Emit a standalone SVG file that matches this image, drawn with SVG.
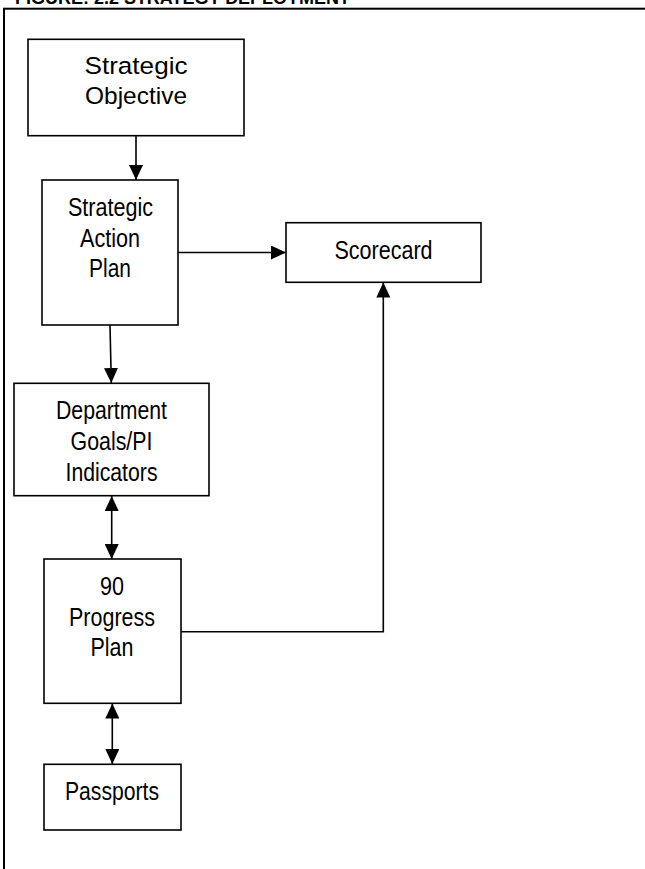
<svg xmlns="http://www.w3.org/2000/svg" width="645" height="869" viewBox="0 0 645 869">
  <style>
    .box { fill: #ffffff; stroke: #000000; stroke-width: 1.6; }
    .lbl { font-family: "Liberation Sans", Arial, sans-serif; font-size: 26px; fill: #000000; text-anchor: middle; }
    .lbl-top { font-size: 24.5px; }
    .title { font-family: "Liberation Sans", Arial, sans-serif; font-size: 18px; font-weight: bold; fill: #000000; }
    .conn { fill: none; stroke: #000000; stroke-width: 1.6; }
  </style>
  <defs>
    <marker id="arrow" markerUnits="userSpaceOnUse" markerWidth="15" markerHeight="14" viewBox="0 0 15 14" refX="15" refY="7" orient="auto-start-reverse">
      <path d="M0,0 L15,7 L0,14 Z" fill="#000000"/>
    </marker>
  </defs>
  <rect width="645" height="869" fill="#ffffff"/>
  <text class="title" x="15" y="4" textLength="335" lengthAdjust="spacingAndGlyphs">FIGURE: 2.2 STRATEGY DEPLOYMENT</text>
  <rect x="4" y="8.7" width="700" height="900" fill="none" stroke="#000000" stroke-width="2"/>

  <g id="connectors">
    <line class="conn" x1="136" y1="136" x2="136" y2="180" marker-end="url(#arrow)"/>
    <line class="conn" x1="178" y1="252.5" x2="286" y2="252.5" marker-end="url(#arrow)"/>
    <line class="conn" x1="110" y1="325" x2="111.3" y2="383" marker-end="url(#arrow)"/>
    <line class="conn" x1="111.7" y1="496" x2="111.7" y2="559" marker-start="url(#arrow)" marker-end="url(#arrow)"/>
    <line class="conn" x1="112.3" y1="703.5" x2="112.3" y2="764" marker-start="url(#arrow)" marker-end="url(#arrow)"/>
    <polyline class="conn" points="181,631.7 383.3,631.7 383.3,282.5" marker-end="url(#arrow)"/>
  </g>

  <g id="strategic-objective">
    <rect class="box" x="28" y="39.3" width="216" height="96.4"/>
    <text class="lbl lbl-top" x="136" y="74" textLength="103" lengthAdjust="spacingAndGlyphs">Strategic</text>
    <text class="lbl lbl-top" x="136" y="103.5" textLength="102" lengthAdjust="spacingAndGlyphs">Objective</text>
  </g>

  <g id="strategic-action-plan">
    <rect class="box" x="42" y="180" width="136" height="145"/>
    <text class="lbl" x="110.5" y="215.5" textLength="85" lengthAdjust="spacingAndGlyphs">Strategic</text>
    <text class="lbl" x="110" y="247" textLength="60" lengthAdjust="spacingAndGlyphs">Action</text>
    <text class="lbl" x="110" y="277" textLength="42" lengthAdjust="spacingAndGlyphs">Plan</text>
  </g>

  <g id="scorecard">
    <rect class="box" x="286" y="222.7" width="195" height="59.6"/>
    <text class="lbl" x="383.5" y="259" textLength="98" lengthAdjust="spacingAndGlyphs">Scorecard</text>
  </g>

  <g id="department-goals">
    <rect class="box" x="14" y="383.3" width="195" height="112.4"/>
    <text class="lbl" x="111.5" y="418.5" textLength="111" lengthAdjust="spacingAndGlyphs">Department</text>
    <text class="lbl" x="111.5" y="450" textLength="82" lengthAdjust="spacingAndGlyphs">Goals/PI</text>
    <text class="lbl" x="111.5" y="480.5" textLength="92" lengthAdjust="spacingAndGlyphs">Indicators</text>
  </g>

  <g id="progress-plan">
    <rect class="box" x="44" y="559" width="137" height="144.3"/>
    <text class="lbl" x="112" y="595" textLength="24" lengthAdjust="spacingAndGlyphs">90</text>
    <text class="lbl" x="112" y="626" textLength="86" lengthAdjust="spacingAndGlyphs">Progress</text>
    <text class="lbl" x="112" y="656" textLength="43" lengthAdjust="spacingAndGlyphs">Plan</text>
  </g>

  <g id="passports">
    <rect class="box" x="44" y="764.3" width="137" height="65.7"/>
    <text class="lbl" x="112" y="800" textLength="94" lengthAdjust="spacingAndGlyphs">Passports</text>
  </g>
</svg>
